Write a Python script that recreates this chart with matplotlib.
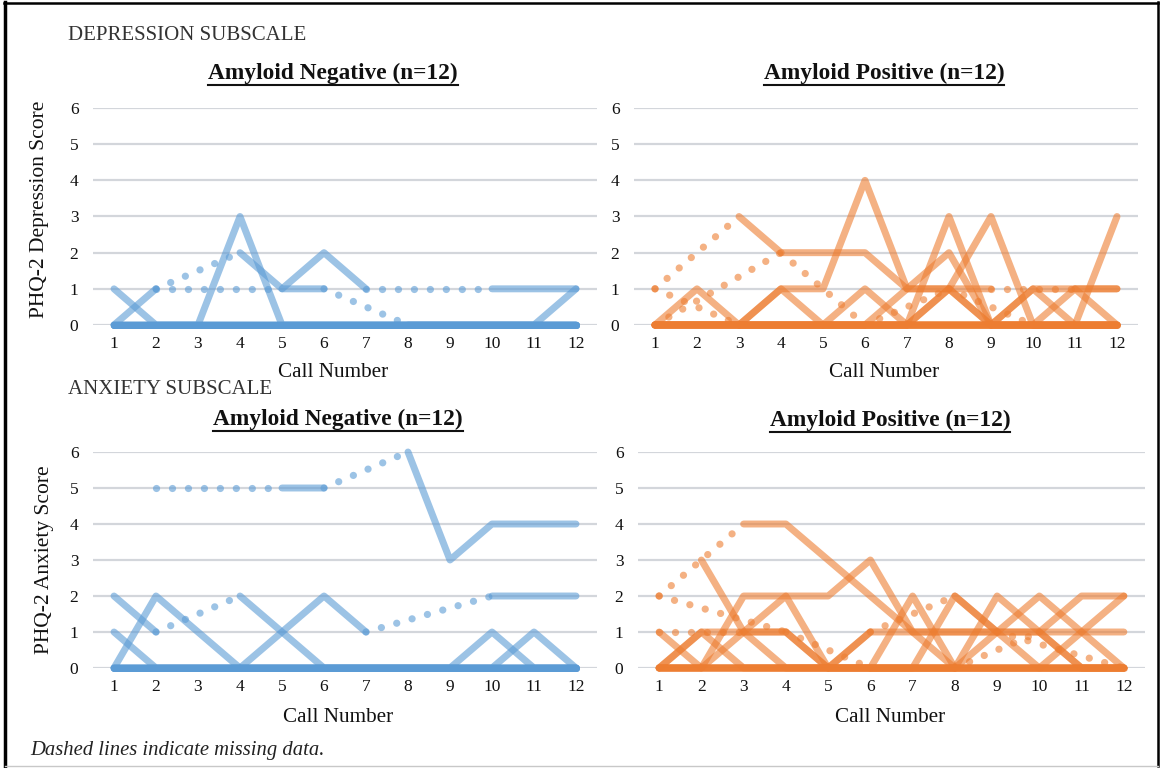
import numpy as np
import matplotlib
matplotlib.use('Agg')
import matplotlib.pyplot as plt
from matplotlib.lines import Line2D

n = np.nan
calls = list(range(1, 13))

# PHQ-2 depression, amyloid negative (one row per participant, nan = missing call)
dep_neg = [
    [1, 0, 0, 0, 0, 0, 0, 0, 0, 0, 0, 0],
    [0, 1, n, 2, 1, 1, n, 0, 0, 0, 0, 0],
    [0, 0, 0, 3, 0, 0, 0, 0, 0, 0, 0, 0],
    [n, 1, n, n, 1, 2, 1, n, n, 1, 1, 1],
    [0, 0, 0, 0, 0, 0, 0, 0, 0, 0, 0, 1],
    [0, 0, 0, 0, 0, 0, 0, 0, 0, 0, 0, 0],
    [0, 0, 0, 0, 0, 0, 0, 0, 0, 0, 0, 0],
    [0, 0, 0, 0, 0, 0, 0, 0, 0, 0, 0, 0],
    [0, 0, 0, 0, 0, 0, 0, 0, 0, 0, 0, 0],
    [0, 0, 0, 0, 0, 0, 0, 0, 0, 0, 0, 0],
    [0, 0, 0, 0, 0, 0, 0, 0, 0, 0, 0, 0],
    [0, 0, 0, 0, 0, 0, 0, 0, 0, 0, 0, 0],
]

# PHQ-2 depression, amyloid positive
dep_pos = [
    [1, n, 3, 2, 2, 2, 1, 1, 1, n, 1, 1],
    [0, n, n, 2, n, 0, n, 1, n, 0, 0, 0],
    [1, n, 0, 0, 0, 0, 0, 0, 0, 0, 0, 0],
    [0, 1, 0, 0, 0, 0, 0, 0, 0, 0, 0, 0],
    [0, 0, 0, 1, 0, 0, 0, 1, 0, 0, 0, 0],
    [0, 0, 0, 1, 1, 4, 1, 1, 0, 1, 1, 1],
    [0, 0, 0, 0, 0, 1, 0, 0, 0, 0, 0, 0],
    [0, 0, 0, 0, 0, 0, 0, 3, 0, 0, 0, 0],
    [0, 0, 0, 0, 0, 0, 1, 2, 0, 0, 1, 0],
    [0, 0, 0, 0, 0, 0, 0, 1, 3, 0, 0, 0],
    [0, 0, 0, 0, 0, 0, 0, 0, 0, 1, 0, 0],
    [0, 0, 0, 0, 0, 0, 0, 0, 0, 0, 0, 3],
]

# PHQ-2 anxiety, amyloid negative
anx_neg = [
    [2, 1, n, 2, 1, 0, 0, 0, 0, 0, 0, 0],
    [1, 0, 0, 0, 0, 0, 0, 0, 0, 0, 0, 0],
    [0, 2, 1, 0, 0, 0, 0, 0, 0, 0, 0, 0],
    [0, 0, 0, 0, 1, 2, 1, n, n, 2, 2, 2],
    [n, 5, n, n, 5, 5, n, 6, 3, 4, 4, 4],
    [0, 0, 0, 0, 0, 0, 0, 0, 0, 1, 0, 0],
    [0, 0, 0, 0, 0, 0, 0, 0, 0, 0, 1, 0],
    [0, 0, 0, 0, 0, 0, 0, 0, 0, 0, 0, 0],
    [0, 0, 0, 0, 0, 0, 0, 0, 0, 0, 0, 0],
    [0, 0, 0, 0, 0, 0, 0, 0, 0, 0, 0, 0],
    [0, 0, 0, 0, 0, 0, 0, 0, 0, 0, 0, 0],
    [0, 0, 0, 0, 0, 0, 0, 0, 0, 0, 0, 0],
]

# PHQ-2 anxiety, amyloid positive
anx_pos = [
    [2, n, 4, 4, 3, 2, 1, 1, 1, 1, 1, 1],
    [n, 3, 1, 0, 0, 0, 0, 0, 0, 0, 0, 0],
    [2, n, n, 1, n, 0, 0, 0, 0, 0, 0, 0],
    [1, n, 1, 1, 0, 0, 0, 2, 1, 0, 0, 0],
    [1, 0, 0, 0, 0, 1, 1, 1, 1, 1, 2, 2],
    [0, 1, 0, 0, 0, 0, 2, 0, 0, 0, 0, 0],
    [0, 0, 2, 2, 2, 3, 1, 0, 0, 0, 0, 0],
    [0, 0, 1, 2, 0, 0, 0, 0, 2, 1, 0, 0],
    [0, 1, 1, 1, 0, 0, 0, 0, 1, 2, 1, 0],
    [0, 0, 0, 0, 0, 1, n, 2, 1, n, n, 0],
    [0, 0, 0, 0, 0, 0, 0, 0, 0, 0, 1, 2],
    [0, 0, 0, 0, 0, 0, 0, 0, n, 1, 0, 0],
]

BLUE = '#5B9BD5'
ORANGE = '#ED7D31'
W, H = 1161, 768

plt.rcParams['font.family'] = ['Liberation Serif', 'DejaVu Serif']

fig = plt.figure(figsize=(W / 100, H / 100), dpi=100)


def px(x, y):
    # pixel position (from top-left) -> figure fraction
    return x / W, 1 - y / H


def make_axes(x0, x1, ytop, ybot):
    return fig.add_axes([x0 / W, 1 - ybot / H, (x1 - x0) / W, (ybot - ytop) / H])


def draw_panel(ax, series, color):
    x = np.array(calls, dtype=float)
    for s in series:
        y = np.array(s, dtype=float)
        ax.plot(x, y, color=color, lw=5, alpha=0.6, solid_capstyle='round',
                solid_joinstyle='round', clip_on=False)
        ok = np.where(~np.isnan(y))[0]
        for a, b in zip(ok[:-1], ok[1:]):
            if b - a > 1:
                ax.plot([x[a], x[b]], [y[a], y[b]], color=color, lw=5.2, alpha=0.6,
                        linestyle=(0, (0.01, 2.2)), dash_capstyle='round', clip_on=False)
    ax.set_xlim(0.5, 12.5)
    ax.set_ylim(0, 6)
    ax.set_xticks(calls)
    ax.set_yticks(range(7))
    ax.grid(axis='y', color='#D3D6DB', lw=1.6)
    ax.set_axisbelow(True)
    for sp in ax.spines.values():
        sp.set_visible(False)
    ax.tick_params(length=0, labelsize=12.5, colors='#111111')
    ax.tick_params(axis='y', pad=10.5)
    ax.tick_params(axis='x', pad=8)


ax1 = make_axes(93, 597, 108, 325)
ax2 = make_axes(634, 1138, 108, 325)
ax3 = make_axes(93, 597, 452, 668)
ax4 = make_axes(638, 1145, 452, 668)

draw_panel(ax1, dep_neg, BLUE)
draw_panel(ax2, dep_pos, ORANGE)
draw_panel(ax3, anx_neg, BLUE)
draw_panel(ax4, anx_pos, ORANGE)

# panel titles (bold, underlined) and axis labels
titles = []
for (cx, cy, txt) in [(333, 73, 'Amyloid Negative (n=12)'), (884, 73, 'Amyloid Positive (n=12)'),
                      (338, 419, 'Amyloid Negative (n=12)'), (890, 420, 'Amyloid Positive (n=12)')]:
    titles.append(fig.text(*px(cx, cy), txt, ha='center', va='center', fontsize=16.8,
                           fontweight='bold', color='#111111'))

for (cx, cy) in [(333, 373), (884, 373), (338, 717), (890, 717)]:
    fig.text(*px(cx, cy), 'Call Number', ha='center', va='center', fontsize=15.2, color='#111111')

fig.text(*px(40, 209), 'PHQ-2 Depression Score', rotation=90, ha='center', va='center',
         fontsize=15.5, color='#111111')
fig.text(*px(45, 560), 'PHQ-2 Anxiety Score', rotation=90, ha='center', va='center',
         fontsize=15.5, color='#111111')

fig.text(*px(68, 35), 'DEPRESSION SUBSCALE', ha='left', va='center', fontsize=15, color='#333333')
fig.text(*px(68, 389), 'ANXIETY SUBSCALE', ha='left', va='center', fontsize=15, color='#333333')
fig.text(*px(30, 750), 'Dashed lines indicate missing data.', ha='left', va='center',
         fontsize=14.9, style='italic', color='#222222')

# underline the titles
fig.canvas.draw()
r = fig.canvas.get_renderer()
for t in titles:
    bb = t.get_window_extent(r)
    yy = (bb.y0 - 1) / H
    fig.add_artist(Line2D([bb.x0 / W, bb.x1 / W], [yy, yy], color='#111111', lw=1.5))

# outer frame
fig.add_artist(Line2D([5 / W, 5 / W], [1 - 2 / H, 1 - 766 / H], color='black', lw=2.5))
fig.add_artist(Line2D([4 / W, 1158 / W], [1 - 3 / H, 1 - 3 / H], color='black', lw=1.8))
fig.add_artist(Line2D([1158 / W, 1158 / W], [1 - 2 / H, 1 - 766 / H], color='black', lw=1.8))
fig.add_artist(Line2D([5 / W, 1158 / W], [1 - 766 / H, 1 - 766 / H], color='#C8C8C8', lw=1.0))

fig.savefig('out.png', dpi=100)
